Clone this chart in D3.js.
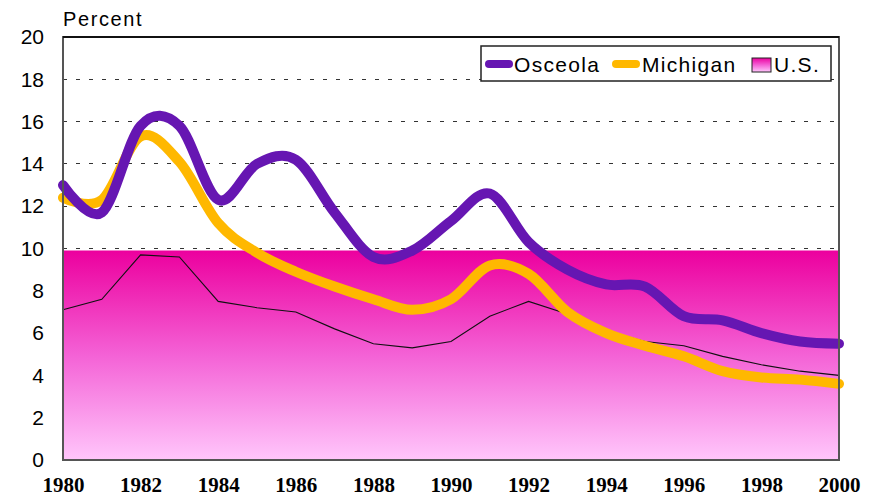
<!DOCTYPE html>
<html><head><meta charset="utf-8">
<script src="https://cdn.jsdelivr.net/npm/d3@7"></script>
<style>body{margin:0;background:#fff}svg{display:block}</style>
</head><body>
<svg id="c" width="878" height="496"></svg>
<script>
const years = d3.range(1980, 2001);
const osceola = [13.0, 11.7, 15.8, 15.8, 12.3, 14.0, 14.2, 11.7, 9.6, 9.9, 11.3, 12.6, 10.3, 9.0, 8.3, 8.2, 6.8, 6.6, 6.0, 5.6, 5.5];
const michigan = [12.4, 12.3, 15.3, 14.1, 11.2, 9.8, 8.9, 8.2, 7.6, 7.1, 7.6, 9.2, 8.8, 7.0, 6.0, 5.4, 4.9, 4.2, 3.9, 3.8, 3.6];
const us = [7.1, 7.6, 9.7, 9.6, 7.5, 7.2, 7.0, 6.2, 5.5, 5.3, 5.6, 6.8, 7.5, 6.9, 6.1, 5.6, 5.4, 4.9, 4.5, 4.2, 4.0];
const usBandTop = [9.9];
const yTicks = [0, 2, 4, 6, 8, 10, 12, 14, 16, 18, 20];
const xTicks = [1980, 1982, 1984, 1986, 1988, 1990, 1992, 1994, 1996, 1998, 2000];
const seriesNames = ["Osceola", "Michigan", "U.S."];

const svg = d3.select("#c");
const L = 63, R = 839, T = 37, B = 460;
const x = d3.scaleLinear().domain([1980, 2000]).range([L, R]);
const y = d3.scaleLinear().domain([0, 20]).range([B, T]);

const defs = svg.append("defs");
const g = defs.append("linearGradient").attr("id", "pink").attr("x1", 0).attr("y1", 0).attr("x2", 0).attr("y2", 1);
g.append("stop").attr("offset", "0%").attr("stop-color", "#EC009E");
g.append("stop").attr("offset", "50%").attr("stop-color", "#F462D6");
g.append("stop").attr("offset", "100%").attr("stop-color", "#FFC6FB");

// gridlines
svg.append("g").selectAll("line").data(yTicks.filter(d => d > 0 && d < 20)).join("line")
  .attr("x1", L).attr("x2", R).attr("y1", d => y(d)).attr("y2", d => y(d))
  .attr("stroke", "#333").attr("stroke-width", 1).attr("stroke-dasharray", "4,9")
  .attr("shape-rendering", "crispEdges");

// U.S. band
const band = d3.area().x(d => x(d)).y0(y(0)).y1(y(usBandTop[0]));
svg.append("path").datum(years).attr("d", band).attr("fill", "url(#pink)");

// U.S. line
svg.append("path").datum(us)
  .attr("d", d3.line().x((d, i) => x(years[i])).y(d => y(d)))
  .attr("fill", "none").attr("stroke", "#111").attr("stroke-width", 1.1);

const smooth = d3.line().x((d, i) => x(years[i])).y(d => y(d)).curve(d3.curveCardinal.tension(0));
svg.append("path").datum(michigan).attr("d", smooth)
  .attr("fill", "none").attr("stroke", "#FFB800").attr("stroke-width", 10)
  .attr("stroke-linecap", "round").attr("stroke-linejoin", "round");
svg.append("path").datum(osceola).attr("d", smooth)
  .attr("fill", "none").attr("stroke", "#6616B2").attr("stroke-width", 10)
  .attr("stroke-linecap", "round").attr("stroke-linejoin", "round");

// frame
svg.append("rect").attr("x", L).attr("y", T).attr("width", R - L).attr("height", B - T)
  .attr("fill", "none").attr("stroke", "#555").attr("stroke-width", 2);
svg.append("line").attr("x1", L).attr("x2", R).attr("y1", T).attr("y2", T).attr("stroke", "#111").attr("stroke-width", 2);

// y labels
const yAxis = d3.axisLeft(y).tickValues(yTicks).tickSize(0).tickPadding(19);
const ya = svg.append("g").attr("transform", `translate(${L},0)`).call(yAxis);
ya.select(".domain").remove();
ya.selectAll("text").attr("font-family", "Liberation Sans, Arial, sans-serif").attr("font-size", 21).attr("fill", "#000");

// x labels
const xAxis = d3.axisBottom(x).tickValues(xTicks).tickFormat(d3.format("d")).tickSize(0).tickPadding(17);
const xa = svg.append("g").attr("transform", `translate(0,${B})`).call(xAxis);
xa.select(".domain").remove();
xa.selectAll("text").attr("font-family", "Liberation Serif, Times New Roman, serif").attr("font-weight", "bold").attr("font-size", 21).attr("fill", "#000");

svg.append("text").attr("x", 63).attr("y", 26).text("Percent")
  .attr("font-family", "Liberation Sans, Arial, sans-serif").attr("font-size", 20).attr("letter-spacing", 1.6);

// legend
const lg = svg.append("g");
lg.append("rect").attr("x", 481).attr("y", 46).attr("width", 350).attr("height", 35)
  .attr("fill", "#fff").attr("stroke", "#222").attr("stroke-width", 1.5);
const lf = "Liberation Sans, Arial, sans-serif";
const items = [
  {name: seriesNames[0], type: "line", color: "#6616B2", x0: 489, tx: 514},
  {name: seriesNames[1], type: "line", color: "#FFB800", x0: 616, tx: 642},
  {name: seriesNames[2], type: "box", x0: 752, tx: 774}
];
items.forEach(it => {
  if (it.type === "line") {
    lg.append("line").attr("x1", it.x0).attr("x2", it.x0 + 20).attr("y1", 64).attr("y2", 64)
      .attr("stroke", it.color).attr("stroke-width", 8).attr("stroke-linecap", "round");
  } else {
    lg.append("rect").attr("x", it.x0).attr("y", 58).attr("width", 19).attr("height", 14)
      .attr("fill", "url(#pink)").attr("stroke", "#222").attr("stroke-width", 1);
  }
  lg.append("text").attr("x", it.tx).attr("y", 72).text(it.name)
    .attr("font-family", lf).attr("font-size", 21).attr("letter-spacing", 1.3);
});
</script>
</body></html>
